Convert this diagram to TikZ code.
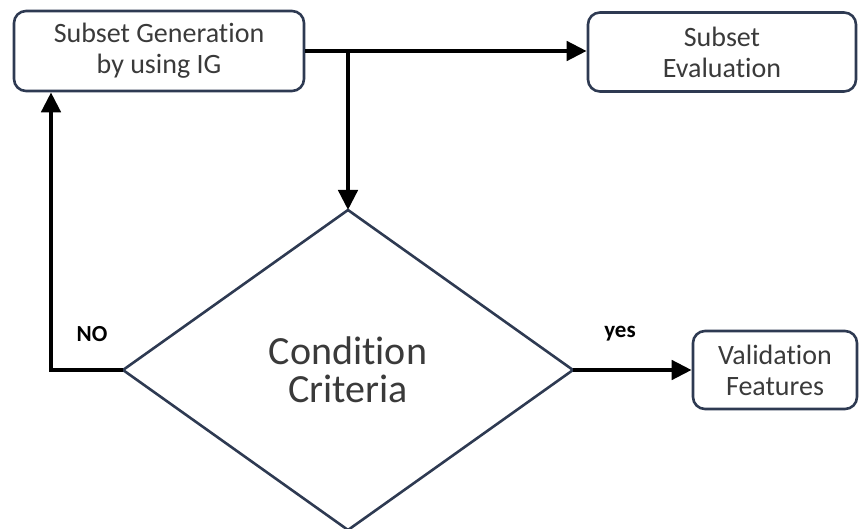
\documentclass[tikz,border=0pt]{standalone}
\usepackage{fontspec}
\setmainfont{Carlito}[Ligatures=NoCommon]
\usetikzlibrary{arrows.meta,shapes.geometric,positioning}
\definecolor{edgeblue}{HTML}{2E3A52}
\definecolor{txtgray}{HTML}{3A3A3A}
\tikzset{
  procbox/.style={draw=edgeblue, line width=2.6pt, rounded corners=12pt, align=center,
    text=txtgray, font=\fontsize{28}{31}\selectfont, inner sep=0pt},
  flow/.style={line width=4.5pt, -{Triangle[length=20pt,width=19pt]}},
  tag/.style={font=\bfseries\fontsize{23}{26}\selectfont}
}
\begin{document}
\begin{tikzpicture}[x=1pt,y=-1pt]
\useasboundingbox (0,0) rectangle (860,529);
\node[procbox, minimum width=290pt, minimum height=80pt] (gen) at (159,51) {Subset Generation\\by using IG};
\node[procbox, minimum width=268pt, minimum height=79pt] (eval) at (722,52) {Subset\\Evaluation};
\node[procbox, minimum width=164pt, minimum height=78pt] (valid) at (775,370) {Validation\\Features};
\node[diamond, draw=edgeblue, line width=2.6pt, minimum width=450pt, minimum height=320pt,
  inner sep=0pt, outer sep=0pt, align=center, text=txtgray, font=\fontsize{40}{38}\selectfont] (crit) at (348,370) {Condition\\Criteria};
\coordinate (split) at (crit.north |- gen.east);
\coordinate (loop) at (51,370);
% connectors
\draw[flow] (gen.east) -- (gen.east -| eval.west);
\draw[flow] (split) -- (crit.north);
\draw[flow] (crit.west) -- (loop) -- (loop |- gen.south);
\draw[flow] (crit.east) -- (valid.west);
\node[tag] at (92,334) {NO};
\node[tag] at (620,334) {yes};
\end{tikzpicture}
\end{document}
